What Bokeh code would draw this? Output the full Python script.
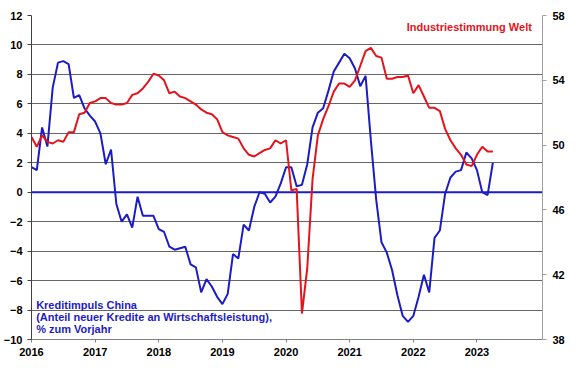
from bokeh.plotting import figure
from bokeh.models import Range1d, LinearAxis, FixedTicker, Span, Label
from bokeh.embed import file_html
from bokeh.resources import INLINE

# ---- data (monthly, Jan 2016 .. Apr 2023) ----
start_year = 2016
credit_impulse = [
    1.7, 1.5, 4.4, 3.1, 7.1, 8.8, 8.9, 8.7, 6.4, 6.6, 5.7, 5.2,          # 2016
    4.8, 4.0, 1.9, 2.9, -0.8, -2.0, -1.5, -2.4, -0.3, -1.6, -1.6, -1.6,  # 2017
    -2.5, -2.7, -3.7, -3.9, -3.8, -3.7, -4.9, -5.1, -6.8, -5.9, -6.4, -7.1,  # 2018
    -7.6, -6.9, -4.2, -4.5, -2.2, -2.6, -1.0, 0.0, -0.1, -0.7, -0.3, 0.6,    # 2019
    1.7, 1.7, 0.4, 0.5, 1.9, 4.4, 5.4, 5.7, 6.9, 8.2, 8.8, 9.4,              # 2020
    9.1, 8.4, 7.2, 7.9, 3.5, -0.5, -3.4, -4.1, -5.3, -7.0, -8.4, -8.8,       # 2021
    -8.4, -7.1, -5.6, -6.8, -3.1, -2.6, -0.1, 1.0, 1.4, 1.5, 2.7, 2.3,       # 2022
    1.5, 0.0, -0.2, 2.0,                                                     # 2023
]
industry_pmi = [
    50.5, 49.9, 50.6, 50.2, 50.1, 50.3, 50.2, 50.8, 50.8, 51.9, 52.0, 52.6,  # 2016
    52.7, 52.9, 52.9, 52.6, 52.5, 52.5, 52.6, 53.1, 53.2, 53.5, 53.9, 54.4,  # 2017
    54.3, 54.0, 53.2, 53.3, 53.0, 52.9, 52.7, 52.5, 52.2, 52.0, 51.9, 51.6,  # 2018
    50.8, 50.6, 50.5, 50.4, 49.8, 49.4, 49.3, 49.5, 49.7, 49.8, 50.3, 50.1,  # 2019
    50.3, 47.2, 47.3, 39.6, 42.4, 47.9, 50.6, 51.6, 52.4, 53.3, 53.8, 53.8,  # 2020
    53.6, 54.0, 54.9, 55.8, 56.0, 55.5, 55.4, 54.1, 54.1, 54.2, 54.2, 54.3,  # 2021
    53.2, 53.7, 53.0, 52.3, 52.3, 52.1, 51.0, 50.3, 49.8, 49.4, 48.8, 48.7,  # 2022
    49.4, 49.9, 49.6, 49.6,                                                  # 2023
]
year_ticks = [2016, 2017, 2018, 2019, 2020, 2021, 2022, 2023]
left_ticks = [-10, -8, -6, -4, -2, 0, 2, 4, 6, 8, 10, 12]
right_ticks = [38, 42, 46, 50, 54, 58]

x = [start_year + i / 12 for i in range(len(credit_impulse))]

BLUE = "#1c1cc4"
RED = "#e3141c"
FONT = "Liberation Sans"

p = figure(width=580, height=375, output_backend="svg", toolbar_location=None,
           x_range=Range1d(2016, 2024.03), y_range=Range1d(-10, 12),
           min_border_left=27, min_border_right=38, min_border_top=15,
           min_border_bottom=36)
p.extra_y_ranges = {"pmi": Range1d(38, 58)}
p.outline_line_color = None
p.background_fill_color = "white"
p.border_fill_color = "white"

p.xgrid.visible = False
p.ygrid.ticker = FixedTicker(ticks=left_ticks)
p.ygrid.grid_line_color = "#666666"
p.ygrid.grid_line_width = 1

p.xaxis.ticker = FixedTicker(ticks=year_ticks)
p.yaxis.ticker = FixedTicker(ticks=left_ticks)

right_axis = LinearAxis(y_range_name="pmi", ticker=FixedTicker(ticks=right_ticks))
p.add_layout(right_axis, "right")

for ax in p.axis:
    ax.major_label_text_font = FONT
    ax.major_label_text_font_style = "bold"
    ax.major_label_text_font_size = "11px"
    ax.major_label_text_color = "black"
    ax.minor_tick_line_color = None
    ax.major_tick_in = 0
    ax.major_tick_out = 4
    ax.major_label_standoff = 5

p.xaxis.axis_line_color = "#808080"
p.xaxis.major_tick_line_color = "#808080"
p.xaxis.major_tick_out = 3
p.yaxis[0].axis_line_color = "#404040"
p.yaxis[0].major_tick_line_color = "#404040"
right_axis.axis_line_color = "#a0a0a0"
right_axis.major_tick_line_color = "#a0a0a0"
right_axis.major_label_standoff = 6

zero = Span(location=0, dimension="width", line_color=BLUE, line_width=2, level="underlay")
p.add_layout(zero)

p.line(x, credit_impulse, line_color=BLUE, line_width=2)
p.line(x, industry_pmi, line_color=RED, line_width=2, y_range_name="pmi")

def add_text(tx, ty, text, color, align="left", size="11px"):
    p.add_layout(Label(x=tx, y=ty, text=text, text_color=color, text_font=FONT,
                       text_font_style="bold", text_font_size=size,
                       text_align=align, text_baseline="middle"))

add_text(2021.897, 11.19, "Industriestimmung Welt", RED)
add_text(2016.073, -7.69, "Kreditimpuls China", BLUE)
add_text(2016.073, -8.48, "(Anteil neuer Kredite an Wirtschaftsleistung),", BLUE)
add_text(2016.073, -9.30, "% zum Vorjahr", BLUE)
add_text(2024.52, -11.83, "Quelle: Refinitiv, Baader Bank Kapitalmarktanalyse", "black",
         align="right", size="10.5px")

open("out.html", "w").write(file_html(p, INLINE))
